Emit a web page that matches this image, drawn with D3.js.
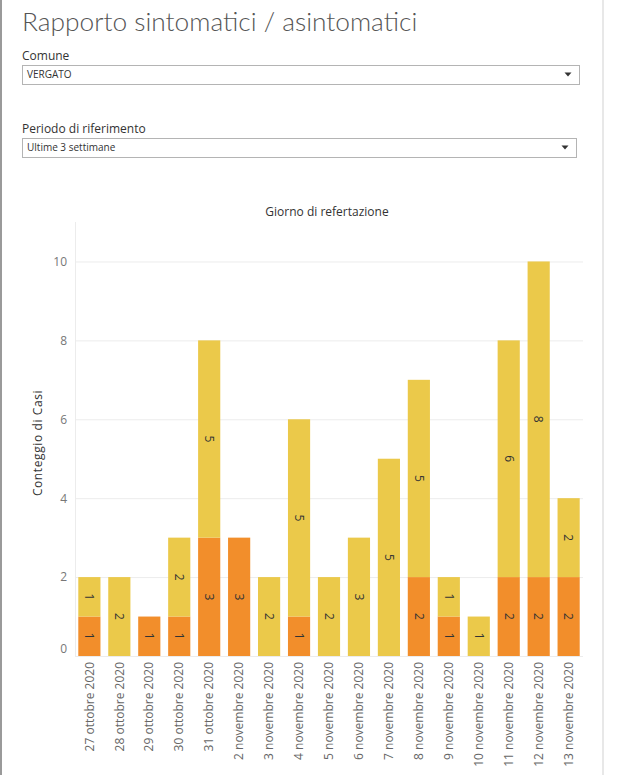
<!DOCTYPE html>
<html><head><meta charset="utf-8">
<script src="https://cdn.jsdelivr.net/npm/d3@7"></script>
<style>
body{margin:0;background:#fff;}
svg{display:block;font-family:"Open Sans","Noto Sans",sans-serif;}
</style></head>
<body><svg id="c" width="626" height="775"></svg>
<script>
const dates = ["27 ottobre 2020","28 ottobre 2020","29 ottobre 2020","30 ottobre 2020","31 ottobre 2020","2 novembre 2020","3 novembre 2020","4 novembre 2020","5 novembre 2020","6 novembre 2020","7 novembre 2020","8 novembre 2020","9 novembre 2020","10 novembre 2020","11 novembre 2020","12 novembre 2020","13 novembre 2020"];
const orangeValues = [1,0,1,1,3,3,0,1,0,0,0,2,1,0,2,2,2];
const yellowValues = [1,2,0,2,5,0,2,5,2,3,5,5,1,1,6,8,2];
const yTicks = [0,2,4,6,8,10];

const svg = d3.select("#c");
const W = 626, H = 775;
svg.append("line").attr("x1",1).attr("x2",1).attr("y1",0).attr("y2",H).attr("stroke","#9a9a9a").attr("stroke-width",2);
svg.append("line").attr("x1",603).attr("x2",603).attr("y1",0).attr("y2",H).attr("stroke","#e8e8e8").attr("stroke-width",2);

svg.append("text").attr("x",22).attr("y",31).text("Rapporto sintomatici / asintomatici")
  .attr("font-family","Lato, 'Open Sans', sans-serif").attr("font-weight",300).attr("font-size",26.3).attr("fill","#555");

function dropdown(label, value, ly, bx, by, bw, bh){
  svg.append("text").attr("x",22).attr("y",ly).text(label).attr("font-size",12).attr("fill","#333");
  svg.append("rect").attr("x",bx+0.5).attr("y",by+0.5).attr("width",bw).attr("height",bh).attr("fill","#fff").attr("stroke","#b4b4b4");
  svg.append("text").attr("x",bx+5).attr("y",by+bh/2+3.5).text(value).attr("font-size",10).attr("fill","#333");
  const ax = bx+bw-11, ay = by+bh/2;
  svg.append("path").attr("d",`M${ax-3.5},${ay-2}L${ax+3.5},${ay-2}L${ax},${ay+2}Z`).attr("fill","#333");
}
dropdown("Comune","VERGATO",60,22,65,557,19);
dropdown("Periodo di riferimento","Ultime 3 settimane",133,22,138,554,19);

const x = d3.scaleBand().domain(dates).range([75,583]).paddingInner(0.26).paddingOuter(0.11);
const y = d3.scaleLinear().domain([0,11]).range([656,222]);

svg.append("g").selectAll("line").data(yTicks).join("line")
  .attr("x1",75).attr("x2",583).attr("y1",d=>y(d)+0.5).attr("y2",d=>y(d)+0.5)
  .attr("stroke","#ececec");
svg.append("line").attr("x1",75.5).attr("x2",75.5).attr("y1",222).attr("y2",656).attr("stroke","#ececec");

const yAxis = d3.axisLeft(y).tickValues(yTicks).tickSize(0).tickPadding(8);
const ya = svg.append("g").attr("transform","translate(75,0)").call(yAxis);
ya.select(".domain").remove();
ya.selectAll("text").attr("font-size",12).attr("fill","#777").attr("font-family","'Open Sans',sans-serif")
  .attr("dy", d => d===0 ? "-0.3em" : "0.32em");

svg.append("text").attr("transform","translate(42,443) rotate(-90)").attr("text-anchor","middle")
  .text("Conteggio di Casi").attr("font-size",12).attr("letter-spacing",0.6).attr("fill","#333");
svg.append("text").attr("x",327).attr("y",216).attr("text-anchor","middle")
  .text("Giorno di refertazione").attr("font-size",12).attr("fill","#333");

const stacked = dates.map((d,i)=>({d, o:orangeValues[i], yv:yellowValues[i]}));
const g = svg.append("g");
g.selectAll("rect.o").data(stacked.filter(s=>s.o>0)).join("rect").attr("class","o")
  .attr("x",s=>x(s.d)).attr("width",x.bandwidth())
  .attr("y",s=>y(s.o)).attr("height",s=>y(0)-y(s.o)).attr("fill","#F28E2B");
g.selectAll("rect.yl").data(stacked.filter(s=>s.yv>0)).join("rect").attr("class","yl")
  .attr("x",s=>x(s.d)).attr("width",x.bandwidth())
  .attr("y",s=>y(s.o+s.yv)).attr("height",s=>y(s.o)-y(s.o+s.yv)).attr("fill","#EBC94A");

const labels = [];
stacked.forEach(s=>{
  if(s.o>0) labels.push({d:s.d,v:s.o,mid:s.o/2});
  if(s.yv>0) labels.push({d:s.d,v:s.yv,mid:s.o+s.yv/2});
});
g.selectAll("text.lab").data(labels).join("text").attr("class","lab")
  .attr("transform",l=>`translate(${x(l.d)+x.bandwidth()/2},${y(l.mid)}) rotate(90)`)
  .attr("text-anchor","middle").attr("dy","0.35em")
  .attr("font-size",12).attr("fill","#333").text(l=>l.v);

const xAxis = d3.axisBottom(x).tickSize(0).tickPadding(0);
const xa = svg.append("g").attr("transform","translate(0,656)").call(xAxis);
xa.select(".domain").remove();
xa.selectAll("text").attr("transform","translate(0,6) rotate(-90)").attr("text-anchor","end")
  .attr("dy","0.35em").attr("x",0).attr("y",0)
  .attr("font-size",12).attr("fill","#666").attr("font-family","'Open Sans',sans-serif");
</script></body></html>
